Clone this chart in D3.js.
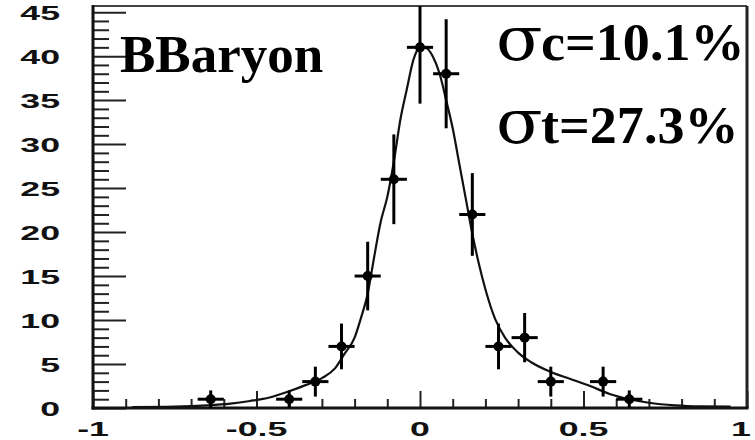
<!DOCTYPE html>
<html><head><meta charset="utf-8">
<script src="https://cdn.jsdelivr.net/npm/d3@7/dist/d3.min.js"></script>
<style>body{margin:0;background:#fff}svg{display:block}</style>
</head><body>
<script>
// ---- data ----
const binCenters = [-0.64,-0.40,-0.32,-0.24,-0.16,-0.08,0.00,0.08,0.16,0.24,0.32,0.40,0.56,0.64];
const counts     = [1,1,3,7,15,26,41,38,22,7,8,3,3,1];
const errors     = [1,1,1.7,2.6,3.9,5.1,6.4,6.2,4.7,2.6,2.8,1.7,1.7,1];
const binHalfWidth = 0.04;
const fitX = [-0.88,-0.75,-0.65,-0.58,-0.52,-0.46,-0.40,-0.35,-0.30,-0.26,-0.23,-0.20,-0.18,-0.16,-0.14,-0.12,-0.10,-0.08,-0.06,-0.04,-0.02,0.00,0.02,0.04,0.06,0.08,0.10,0.12,0.14,0.16,0.18,0.20,0.23,0.26,0.30,0.34,0.40,0.46,0.52,0.58,0.64,0.70,0.78,0.86,0.95];
const fitY = [0.1,0.15,0.3,0.5,0.8,1.2,1.9,2.6,3.4,4.5,6.2,8.0,10.3,13.0,17.2,21.2,24.0,28.0,32.8,36.3,39.6,41.0,40.9,39.9,38.0,35.0,31.8,27.8,23.8,19.8,16.4,13.5,10.1,8.0,6.3,5.2,4.1,3.3,2.5,1.6,1.0,0.6,0.3,0.18,0.15];
const xTickValues = [-1,-0.5,0,0.5,1];
const xTickLabels = ["-1","-0.5","0","0.5","1"];
const xMinorValues = [-0.9,-0.8,-0.7,-0.6,-0.4,-0.3,-0.2,-0.1,0.1,0.2,0.3,0.4,0.6,0.7,0.8,0.9];
const yTickValues = [0,5,10,15,20,25,30,35,40,45];
const yTickLabels = ["0","5","10","15","20","25","30","35","40","45"];
const title = "BBaryon";
const sigmaLines = [["σ","c=10.1%"],["σ","t=27.3%"]];

// ---- layout ----
const W = 755, H = 440;
const L = 93, R = 747, T = 6, B = 408;
const svg = d3.select("body").append("svg").attr("width", W).attr("height", H);
const x = d3.scaleLinear().domain([-1, 1]).range([L, R]);
const y = d3.scaleLinear().domain([0, 45.7]).range([B, T]);

// frame
svg.append("line").attr("x1", L).attr("x2", R).attr("y1", T).attr("y2", T)
  .attr("stroke", "#444").attr("stroke-width", 2);
svg.append("line").attr("x1", R).attr("x2", R).attr("y1", T).attr("y2", B)
  .attr("stroke", "#222").attr("stroke-width", 3);

// y axis ticks (inward)
const yMinor = d3.range(0, 46).filter(v => v % 5 !== 0);
svg.append("g").attr("transform", `translate(${L},0)`)
  .call(d3.axisLeft(y).tickValues(yMinor).tickSize(-16).tickFormat(""))
  .call(g => { g.select(".domain").remove(); g.selectAll("line").attr("stroke", "#222").attr("stroke-width", 2); });
svg.append("g").attr("transform", `translate(${L},0)`)
  .call(d3.axisLeft(y).tickValues(yTickValues).tickSize(-33).tickFormat(""))
  .call(g => { g.select(".domain").remove(); g.selectAll("line").attr("stroke", "#222").attr("stroke-width", 2); });

// x axis ticks (inward)
svg.append("g").attr("transform", `translate(0,${B})`)
  .call(d3.axisBottom(x).tickValues(xMinorValues).tickSize(-9).tickFormat(""))
  .call(g => { g.select(".domain").remove(); g.selectAll("line").attr("stroke", "#222").attr("stroke-width", 2); });
svg.append("g").attr("transform", `translate(0,${B})`)
  .call(d3.axisBottom(x).tickValues(xTickValues).tickSize(-17).tickFormat(""))
  .call(g => { g.select(".domain").remove(); g.selectAll("line").attr("stroke", "#222").attr("stroke-width", 2); });

// axis lines
svg.append("line").attr("x1", L).attr("x2", L).attr("y1", T - 1).attr("y2", B + 1.5)
  .attr("stroke", "#111").attr("stroke-width", 3);
svg.append("line").attr("x1", L - 1.5).attr("x2", R + 1.5).attr("y1", B).attr("y2", B)
  .attr("stroke", "#111").attr("stroke-width", 3);

// tick labels (wide bold sans)
const lblFont = "'Liberation Sans', Arial, sans-serif";
svg.append("g").selectAll("g").data(yTickValues).join("g")
  .attr("transform", d => `translate(60,${y(d)}) scale(1.7,1)`)
  .append("text").attr("text-anchor", "end").attr("dy", "0.36em")
  .attr("font-family", lblFont).attr("font-weight", "bold").attr("font-size", 21).attr("fill", "#111")
  .text((d, i) => yTickLabels[i]);
svg.append("g").selectAll("g").data(xTickValues).join("g")
  .attr("transform", (d, i) => `translate(${x(d) - (i === xTickValues.length - 1 ? 6 : 0)},436) scale(1.7,1)`)
  .append("text").attr("text-anchor", "middle")
  .attr("font-family", lblFont).attr("font-weight", "bold").attr("font-size", 21).attr("fill", "#111")
  .text((d, i) => xTickLabels[i]);

// fit curve
svg.append("clipPath").attr("id", "pc").append("rect")
  .attr("x", L).attr("y", T).attr("width", R - L).attr("height", B - T);
const plot = svg.append("g").attr("clip-path", "url(#pc)");
plot.append("path").datum(fitX.map((v, i) => [v, fitY[i]]))
  .attr("d", d3.line().x(d => x(d[0])).y(d => y(d[1])).curve(d3.curveMonotoneX))
  .attr("fill", "none").attr("stroke", "#111").attr("stroke-width", 2.2);

// data points with errors
const pts = binCenters.map((c, i) => ({c, n: counts[i], e: errors[i]}));
const pg = plot.append("g").attr("stroke", "#000").attr("stroke-width", 3);
pg.selectAll("line.v").data(pts).join("line").attr("class", "v")
  .attr("x1", d => x(d.c)).attr("x2", d => x(d.c))
  .attr("y1", d => y(d.n - d.e)).attr("y2", d => y(d.n + d.e));
pg.selectAll("line.h").data(pts).join("line").attr("class", "h")
  .attr("x1", d => x(d.c - binHalfWidth)).attr("x2", d => x(d.c + binHalfWidth))
  .attr("y1", d => y(d.n)).attr("y2", d => y(d.n));
plot.append("g").selectAll("circle").data(pts).join("circle")
  .attr("cx", d => x(d.c)).attr("cy", d => y(d.n)).attr("r", 5).attr("fill", "#000");

// texts
const serif = "'Liberation Serif', 'Times New Roman', serif";
svg.append("text").attr("x", 120).attr("y", 72)
  .attr("font-family", serif).attr("font-weight", "bold").attr("font-size", 53).attr("fill", "#000")
  .text(title);
const sl = svg.append("g").selectAll("g").data(sigmaLines).join("g")
  .attr("transform", (d, i) => `translate(0,${60 + i * 83})`);
sl.append("text").attr("transform", "translate(496,0) scale(1.1,1)")
  .attr("font-family", "'DejaVu Serif', serif").attr("font-size", 62).attr("fill", "#000")
  .text(d => d[0]);
sl.append("text").attr("transform", "translate(541,0) scale(1.04,1)")
  .attr("font-family", serif).attr("font-weight", "bold").attr("font-size", 52).attr("fill", "#000")
  .text(d => d[1]);
</script>
</body></html>
